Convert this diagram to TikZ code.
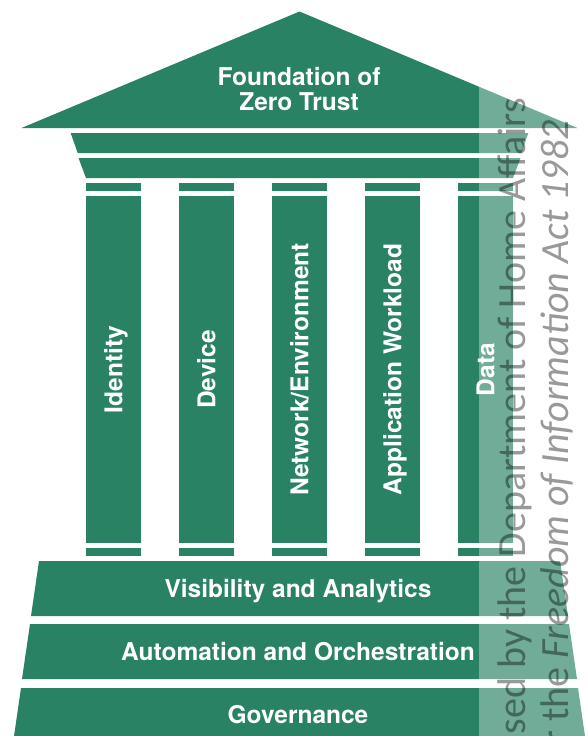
\documentclass[tikz,border=0pt]{standalone}
\usepackage{fontspec}
\setmainfont{TeX Gyre Heros}
\newfontfamily\stampfont{Carlito}
\usepackage{tikz}
\definecolor{Temple}{HTML}{288263}
\newcommand\pillarfont{\bfseries\fontsize{24.5}{25}\selectfont}

\begin{document}
\begin{tikzpicture}[x=1pt,y=-1pt,
    pillar/.style={fill=Temple,text=white,font=\pillarfont,rotate=90,
      minimum width=347pt,minimum height=55pt,inner sep=0pt,
      text height=17.6pt,text depth=0pt},
    tier/.style={text=white,font=\pillarfont,anchor=base},
    stamp/.style={rotate=90,anchor=base east,inner sep=0pt,text=black,
      text opacity=0.4,font=\stampfont\fontsize{40}{40}\selectfont}
  ]
  \useasboundingbox (0,0) rectangle (588,736);
  \clip (0,0) rectangle (588,736);

  % roof and the two beams under it
  \fill[Temple] (21.5,128) -- (299.5,11.5) -- (577.5,128) -- cycle;
  \fill[Temple] (70.7,133) -- (528.3,133) -- (521.3,153) -- (77.7,153) -- cycle;
  \fill[Temple] (78.5,158) -- (520.5,158) -- (513,178) -- (86,178) -- cycle;
  \node[font=\pillarfont,text=white,align=center] (roof) at (299,88.5)
    {Foundation of\\Zero Trust};

  % five pillars with capital and foot strips
  \foreach \name [count=\i from 0] in
      {Identity,Device,Network/Environment,Application Workload,Data}{
    \fill[Temple] (86+93*\i,183) rectangle ++(55,8);
    \fill[Temple] (86+93*\i,548) rectangle ++(55,8);
    \node[pillar] (p\i) at (113.5+93*\i,369.5) {\name};
  }

  % base steps
  \fill[Temple] (39,561) -- (560,561) -- (568,616) -- (31,616) -- cycle;
  \fill[Temple] (30,624) -- (569,624) -- (577,679) -- (22,679) -- cycle;
  \fill[Temple] (21,688) -- (578,688) -- (586,743) -- (13,743) -- cycle;
  \node[tier] (vis) at (298,597) {Visibility and Analytics};
  \node[tier] (auto) at (298,660) {Automation and Orchestration};
  \node[tier] (gov) at (298,723) {Governance};

  % release stamp
  \fill[white,opacity=0.34] (479,0) rectangle (588,736);
  \node[stamp] (rel) at (525,98) {Released by the Department of Home Affairs};
  \node[stamp] (foi) at (568,120)
    {under the \textit{Freedom of Information Act 1982}};
\end{tikzpicture}
\end{document}
